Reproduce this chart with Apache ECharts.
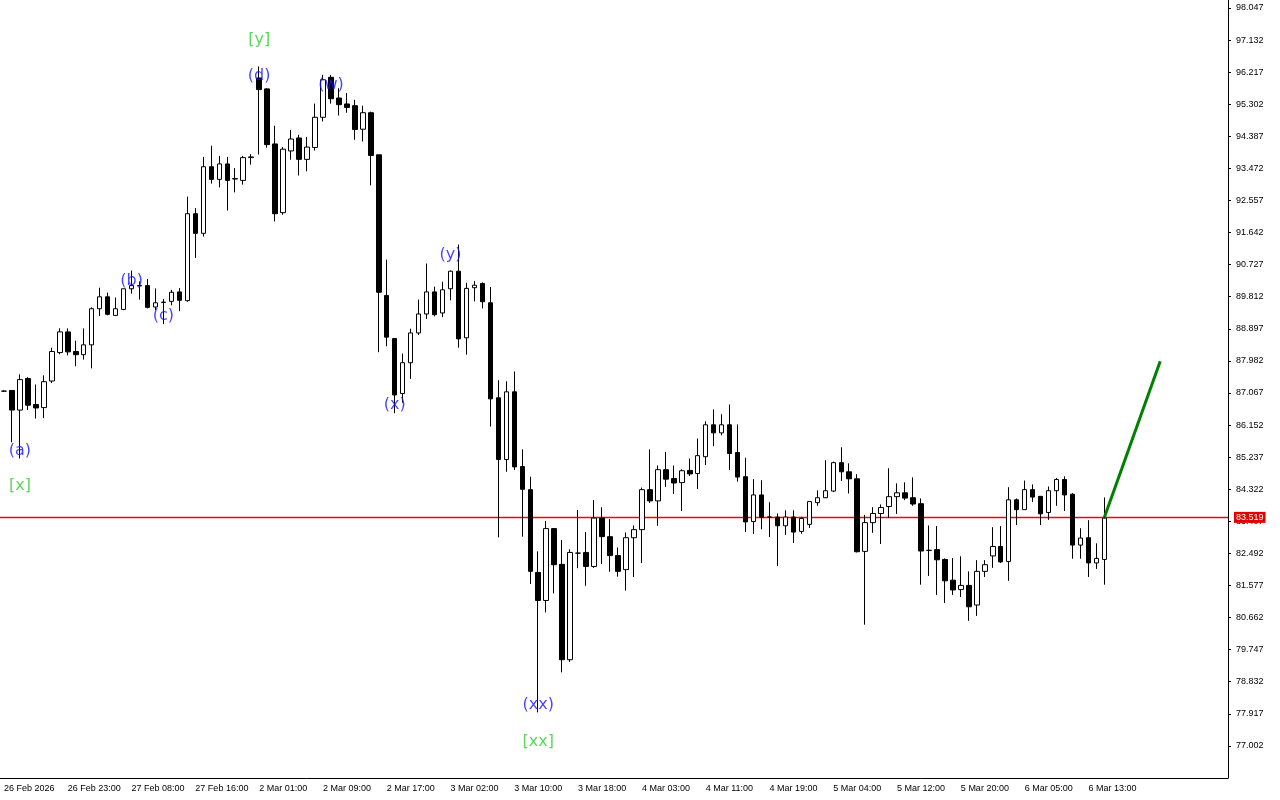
<!DOCTYPE html>
<html><head><meta charset="utf-8">
<script src="https://cdn.jsdelivr.net/npm/echarts@6/dist/echarts.min.js"></script>
<style>html,body{margin:0;padding:0;background:#fff}#c{width:1280px;height:800px}</style>
</head><body><div id="c"></div>
<script>
// OHLC per hourly candle: [open, close, low, high]
const candles = [
[87.12,87.12,87.10,87.14],[87.14,86.58,85.66,87.14],[86.58,87.45,85.20,87.60],[87.48,86.72,86.58,87.52],
[86.74,86.64,86.34,87.31],[86.65,87.39,86.35,87.57],[87.41,88.25,87.35,88.36],[88.22,88.81,88.17,88.91],
[88.81,88.24,88.14,88.91],[88.25,88.16,87.83,88.56],[88.16,88.44,88.02,88.91],[88.44,89.47,87.77,89.51],
[89.47,89.81,89.26,90.07],[89.81,89.31,89.28,89.93],[89.28,89.47,89.26,89.79],[89.45,90.04,89.43,90.04],
[90.04,90.13,89.90,90.56],[90.13,90.12,89.73,90.25],[90.13,89.51,89.48,90.32],[89.52,89.64,89.43,90.05],
[89.65,89.66,89.03,89.75],[89.68,89.94,89.57,90.01],[89.95,89.71,89.40,90.06],[89.70,92.18,89.67,92.67],
[92.18,91.62,90.92,92.34],[91.62,93.52,91.53,93.80],[93.52,93.16,93.04,94.12],[93.16,93.60,92.93,93.83],
[93.60,93.13,92.27,93.80],[93.17,93.18,92.79,93.48],[93.13,93.78,93.01,93.83],[93.78,93.80,93.58,93.88],
[96.05,95.72,93.87,96.38],[95.74,94.15,94.06,95.76],[94.17,92.18,91.96,94.69],[92.21,94.02,92.15,94.08],
[93.97,94.31,93.72,94.57],[94.34,93.73,93.27,94.43],[93.73,94.08,93.39,94.37],[94.07,94.93,93.98,95.32],
[94.93,96.00,94.81,96.14],[96.07,95.46,95.32,96.14],[95.48,95.29,94.98,95.76],[95.31,95.21,95.06,95.62],
[95.26,94.58,94.29,95.43],[94.59,95.06,94.24,95.26],[95.06,93.84,92.99,95.09],[93.86,89.94,88.23,93.86],
[89.85,88.66,88.40,90.87],[88.62,87.01,86.49,88.62],[87.05,87.93,86.79,88.19],[87.93,88.78,87.47,88.90],
[88.78,89.32,88.72,89.73],[89.32,89.95,89.18,90.76],[89.95,89.30,89.25,90.10],[89.35,90.01,89.23,90.24],
[90.04,90.54,89.71,90.56],[90.54,88.61,88.36,91.30],[88.64,90.05,88.16,90.21],[90.07,90.14,89.68,90.26],
[90.19,89.67,89.48,90.22],[89.64,86.90,86.11,90.09],[86.93,85.17,82.95,87.43],[85.17,87.10,84.82,87.40],
[87.10,84.96,84.87,87.68],[84.97,84.32,82.97,85.46],[84.31,81.98,81.62,84.68],[81.95,81.15,77.96,82.55],
[81.15,83.20,80.81,83.42],[83.20,82.17,81.35,83.20],[82.18,79.46,79.10,82.87],[79.46,82.52,79.40,82.61],
[82.50,82.50,82.07,83.73],[82.52,82.12,81.57,83.10],[82.12,83.50,82.08,84.01],[83.50,82.97,82.19,83.81],
[82.97,82.43,81.97,83.47],[82.43,81.98,81.83,82.66],[82.03,82.94,81.43,83.09],[82.94,83.17,81.82,83.29],
[83.17,84.31,82.22,84.37],[84.31,83.99,83.93,85.46],[83.99,84.88,83.28,85.00],[84.88,84.61,84.39,85.39],
[84.63,84.50,84.19,85.00],[84.51,84.85,83.70,84.89],[84.86,84.76,84.70,85.20],[84.77,85.28,84.33,85.77],
[85.25,86.16,85.01,86.26],[86.16,85.93,85.55,86.60],[85.93,86.16,85.86,86.46],[86.16,85.34,84.87,86.74],
[85.37,84.67,84.54,86.17],[84.68,83.39,83.10,85.22],[83.40,84.16,83.05,84.61],[84.16,83.52,83.18,84.58],
[83.53,83.53,82.96,83.95],[83.53,83.28,82.13,83.63],[83.28,83.53,83.02,83.72],[83.53,83.10,82.79,83.72],
[83.12,83.49,83.05,83.54],[83.32,83.97,83.22,83.97],[83.94,84.08,83.85,84.29],[84.08,84.28,84.07,85.15],
[84.27,85.08,84.24,85.11],[85.08,84.82,84.56,85.52],[84.82,84.62,84.20,85.06],[84.62,82.54,82.52,84.75],
[82.55,83.37,80.46,83.59],[83.37,83.63,83.08,83.81],[83.63,83.80,82.76,83.89],[83.83,84.11,83.50,84.92],
[84.11,84.22,83.62,84.49],[84.22,84.07,84.01,84.52],[84.08,83.90,83.85,84.66],[83.91,82.56,81.60,84.06],
[82.58,82.58,81.85,83.29],[82.60,82.31,81.31,83.27],[82.32,81.71,81.08,82.35],[81.73,81.45,81.31,82.36],
[81.46,81.58,81.25,82.41],[81.58,80.97,80.57,81.98],[81.02,81.98,80.71,82.30],[81.98,82.17,81.82,82.30],
[82.42,82.69,82.08,83.24],[82.69,82.25,82.22,83.27],[82.26,84.02,81.71,84.38],[84.02,83.74,83.30,84.06],
[83.74,84.31,83.74,84.57],[84.31,84.10,83.96,84.46],[84.12,83.62,83.30,84.12],[83.66,84.28,83.45,84.40],
[84.28,84.60,83.85,84.64],[84.60,84.16,83.70,84.69],[84.18,82.73,82.34,84.21],[82.73,82.93,82.34,83.21],
[82.94,82.22,81.82,83.44],[82.22,82.35,82.05,82.78],[82.32,83.50,81.60,84.09]
];
const timeLabels = ['26 Feb 2026','26 Feb 23:00','27 Feb 08:00','27 Feb 16:00','2 Mar 01:00','2 Mar 09:00','2 Mar 17:00','3 Mar 02:00','3 Mar 10:00','3 Mar 18:00','4 Mar 03:00','4 Mar 11:00','4 Mar 19:00','5 Mar 04:00','5 Mar 12:00','5 Mar 20:00','6 Mar 05:00','6 Mar 13:00'];
const labelEvery = 8;
const slotCount = 154;
const currentPrice = 83.519;
const forecastStart = [138, 83.52];
const forecastEnd = [145, 87.97];
const waveText = ['[y]','(d)','(w)','(b)','(c)','(a)','[x]','(y)','(x)','(xx)','[xx]'];
const waveIndex = [32,32,41,16,20,2,2,56,49,67,67];
const wavePrice = [97.14,96.11,95.85,90.27,89.28,85.43,84.41,91.01,86.74,78.17,77.12];
const waveGreen = [true,false,false,false,false,false,true,false,false,false,true];
const yMin = 76.087, yMax = 98.275, yStep = 0.915;

const cats = [];
for (let i = 0; i < slotCount; i++) cats.push(i % labelEvery === 0 && timeLabels[i / labelEvery] ? timeLabels[i / labelEvery] : '');
const lineData = new Array(slotCount).fill(null);
lineData[forecastStart[0]] = forecastStart[1];
lineData[forecastEnd[0]] = forecastEnd[1];
const waveData = waveText.map((t, k) => ({
  value: [waveIndex[k], wavePrice[k]],
  label: {formatter: t, color: waveGreen[k] ? '#33cc33' : '#1515ff'}
}));

const font = 'Liberation Sans';
const chart = echarts.init(document.getElementById('c'));
chart.setOption({
 animation:false,
 backgroundColor:'#fff',
 grid:{left:0,right:52,top:0,bottom:22},
 xAxis:{type:'category',data:cats,boundaryGap:true,
  axisLine:{lineStyle:{color:'#000'}},
  axisTick:{interval:(i)=>i%labelEvery===0,length:4,lineStyle:{color:'#000'},alignWithLabel:true},
  axisLabel:{interval:0,color:'#000',fontFamily:font,fontSize:9,align:'left',margin:6}},
 yAxis:{type:'value',position:'right',min:yMin,max:yMax,interval:yStep,scale:true,
  axisLine:{show:true,lineStyle:{color:'#000'}},axisTick:{show:true,length:3,lineStyle:{color:'#000'}},
  splitLine:{show:false},
  axisLabel:{color:'#000',fontFamily:font,fontSize:9,margin:8,showMaxLabel:false,showMinLabel:false,
   formatter:(v)=>v.toFixed(3)}},
 series:[
  {type:'candlestick',data:candles,barWidth:5,z:3,
   itemStyle:{color:'#fff',color0:'#000',borderColor:'#000',borderColor0:'#000',borderWidth:1}},
  {type:'line',data:lineData,connectNulls:true,symbol:'none',lineStyle:{color:'#008000',width:3},z:5,
   markLine:{symbol:'none',silent:true,z:1,
    data:[{yAxis:currentPrice,lineStyle:{color:'#ff0000',width:1.3,type:'solid',opacity:1}}],
    label:{position:'end',formatter:currentPrice.toFixed(3),color:'#fff',backgroundColor:'#e00000',
     fontFamily:font,fontSize:9,padding:[1,2],distance:6}}},
  {type:'scatter',data:waveData,symbol:'circle',symbolSize:1,itemStyle:{color:'rgba(0,0,0,0)'},z:10,silent:true,
   label:{show:true,position:'inside',fontSize:16,fontFamily:'DejaVu Sans'}}
 ]
});
</script></body></html>
